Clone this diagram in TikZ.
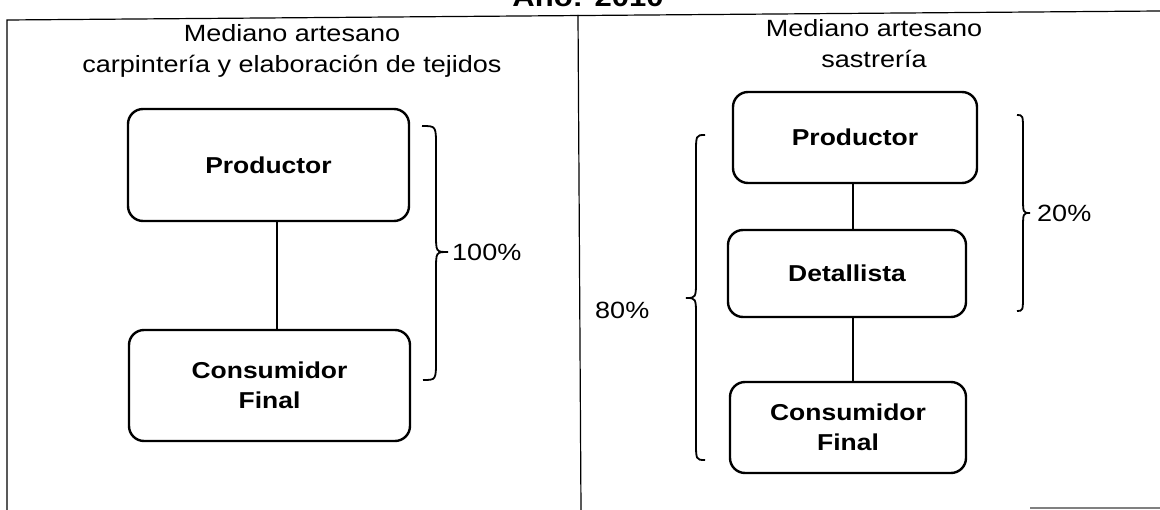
\documentclass[tikz,border=0pt]{standalone}
\usepackage{fontspec}
\setmainfont[FakeStretch=1.15]{Liberation Sans}
\begin{document}
\begin{tikzpicture}[x=1pt,y=-1pt,
  box/.style={draw, line width=2.4pt, rounded corners=15pt, align=center,
    font=\bfseries\fontsize{23}{30}\selectfont, inner sep=0pt},
  lbl/.style={font=\fontsize{23.5}{31}\selectfont, inner sep=0pt},
  conn/.style={line width=1.2pt},
  brc/.style={line width=1.8pt},
  frm/.style={line width=1.2pt}]
\useasboundingbox (0,0) rectangle (1160,510);
% frame
\draw[frm] (7,510) -- (7,20) -- (1160,11);
\draw[frm] (578,15) -- (581,510);
\draw[frm, gray] (1030,508) -- (1160,508);
% title
\node[anchor=base, inner sep=0pt, font=\bfseries\fontsize{27}{34}\selectfont] (title) at (588,7) {Año: 2010};
% left panel
\node[lbl, anchor=base] (lt1) at (292,42) {Mediano artesano};
\node[lbl, anchor=base] (lt2) at (292,73) {carpintería y elaboración de tejidos};
\node[box, minimum width=281pt, minimum height=112pt] (p1) at (268.5,165) {Productor};
\node[box, minimum width=281pt, minimum height=111pt] (c1) at (269.5,385.5) {Consumidor\\Final};
\draw[conn] (p1.south -| 277,0) -- (c1.north -| 277,0);
\draw[brc] (422,126) .. controls (436,126) .. (436,146) -- (436,234)
  .. controls (436,252) .. (448,252) .. controls (436,252) .. (436,270)
  -- (436,360) .. controls (436,380) .. (423,380);
\node[lbl, anchor=west] (pct100) at (452,252) {100\%};
% right panel
\node[lbl, anchor=base] (rt1) at (874,37) {Mediano artesano};
\node[lbl, anchor=base] (rt2) at (874,68) {sastrería};
\node[box, minimum width=244pt, minimum height=91pt] (p2) at (855,137.5) {Productor};
\node[box, minimum width=238pt, minimum height=87pt] (d2) at (847,273.5) {Detallista};
\node[box, minimum width=236pt, minimum height=91pt] (c2) at (848,427.5) {Consumidor\\Final};
\draw[conn] (p2.south -| 853,0) -- (d2.north -| 853,0);
\draw[conn] (d2.south -| 853,0) -- (c2.north -| 853,0);
\draw[brc] (1017,115) .. controls (1023,115) .. (1023,132) -- (1023,196)
  .. controls (1023,213) .. (1030,213) .. controls (1023,213) .. (1023,230)
  -- (1023,294) .. controls (1023,311) .. (1017,311);
\node[lbl, anchor=west] (pct20) at (1037,213) {20\%};
\draw[brc] (705,135) .. controls (696,135) .. (696,154) -- (696,279)
  .. controls (696,298) .. (686,298) .. controls (696,298) .. (696,317)
  -- (696,441) .. controls (696,460) .. (705,460);
\node[lbl, anchor=west] (pct80) at (595,310) {80\%};
\end{tikzpicture}
\end{document}
